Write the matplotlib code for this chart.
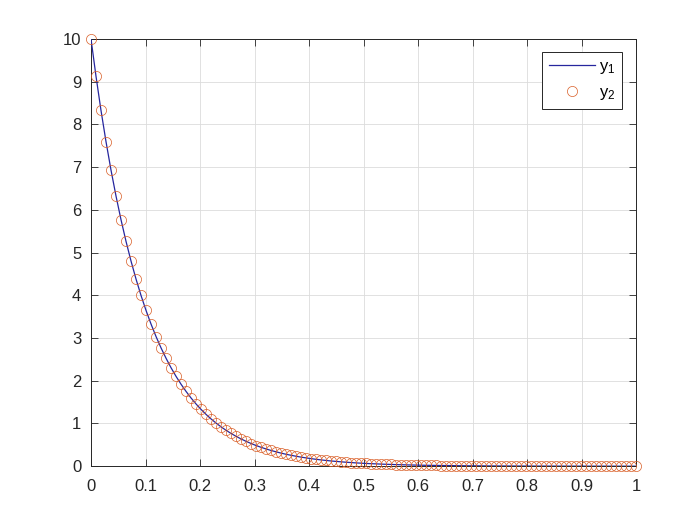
import numpy as np
import matplotlib
matplotlib.use("Agg")
import matplotlib.pyplot as plt

x_vals = np.linspace(0, 1, 110)
y_vals = [10.000, 9.123, 8.324, 7.594, 6.928, 6.321, 5.767, 5.261, 4.800, 4.379,
          3.995, 3.645, 3.326, 3.034, 2.768, 2.526, 2.304, 2.102, 1.918, 1.750,
          1.596, 1.456, 1.329, 1.212, 1.106, 1.009, 0.921, 0.840, 0.766, 0.699,
          0.638, 0.582, 0.531, 0.484, 0.442, 0.403, 0.368, 0.336, 0.306, 0.279,
          0.255, 0.233, 0.212, 0.194, 0.177, 0.161, 0.147, 0.134, 0.122, 0.112,
          0.102, 0.093, 0.085, 0.077, 0.071, 0.064, 0.059, 0.054, 0.049, 0.045,
          0.041, 0.037, 0.034, 0.031, 0.028, 0.026, 0.023, 0.021, 0.020, 0.018,
          0.016, 0.015, 0.014, 0.012, 0.011, 0.010, 0.009, 0.009, 0.008, 0.007,
          0.006, 0.006, 0.005, 0.005, 0.0045, 0.0041, 0.0037, 0.0034, 0.0031, 0.0028,
          0.0026, 0.0024, 0.0022, 0.0020, 0.0018, 0.0016, 0.0015, 0.0014, 0.0012, 0.0011,
          0.0010, 0.0010, 0.0009, 0.0008, 0.0007, 0.0007, 0.0006, 0.0005, 0.0005, 0.0005]
x_ticks = [0, 0.1, 0.2, 0.3, 0.4, 0.5, 0.6, 0.7, 0.8, 0.9, 1]
x_ticklabels = ["0", "0.1", "0.2", "0.3", "0.4", "0.5", "0.6", "0.7", "0.8", "0.9", "1"]
y_ticks = list(range(0, 11))
series_labels = ["y_1", "y_2"]

plt.rcParams['font.family'] = ['Liberation Sans', 'DejaVu Sans']
plt.rcParams['mathtext.fontset'] = 'custom'
plt.rcParams['mathtext.rm'] = 'Liberation Sans'

fig = plt.figure(figsize=(7, 5.25), dpi=100)
ax = fig.add_axes([0.13, 0.112, 0.779, 0.814])

ax.plot(x_vals, y_vals, color=(0.15, 0.15, 0.62), linewidth=0.9,
        label=r'$\mathregular{%s}$' % series_labels[0], zorder=3)
ax.plot(x_vals, y_vals, linestyle='none', marker='o', markersize=7.3,
        markerfacecolor='none', markeredgecolor=(0.85, 0.36, 0.14),
        markeredgewidth=0.5, label=r'$\mathregular{%s}$' % series_labels[1], zorder=4,
        clip_on=False)

ax.set_xlim(0, 1)
ax.set_ylim(0, 10)
ax.set_xticks(x_ticks)
ax.set_xticklabels(x_ticklabels)
ax.set_yticks(y_ticks)
ax.grid(True, color='#dcdcdc', linewidth=0.6)
ax.set_axisbelow(True)
ax.tick_params(direction='in', top=True, right=True, labelsize=12,
               length=5, width=0.6, colors='#262626')
ax.tick_params(axis='x', pad=9)
ax.tick_params(axis='y', pad=7)
for s in ax.spines.values():
    s.set_linewidth(0.7)
    s.set_color('#262626')

leg = ax.legend(loc='upper right', bbox_to_anchor=(0.974, 0.9696), borderaxespad=0,
                fancybox=False, edgecolor='#262626', framealpha=1, fontsize=12,
                handlelength=2.75, borderpad=0.42, labelspacing=0.55, handletextpad=0.25)
leg.get_frame().set_linewidth(0.7)

fig.savefig("out.png", dpi=100)
